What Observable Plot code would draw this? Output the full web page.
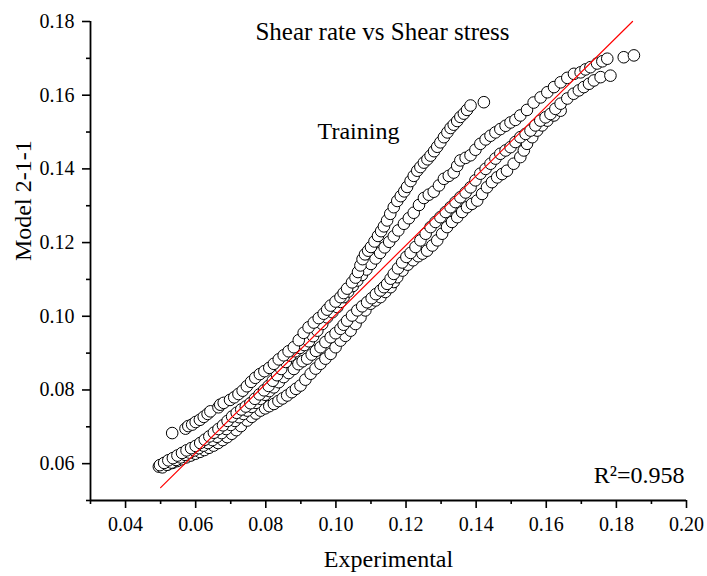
<!DOCTYPE html>
<html>
<head>
<meta charset="utf-8">
<script src="https://cdn.jsdelivr.net/npm/d3@7"></script>
<script src="https://cdn.jsdelivr.net/npm/@observablehq/plot@0.6"></script>
<style>
  html, body { margin: 0; padding: 0; background: #fff; }
  svg text { font-family: "Liberation Serif", "Times New Roman", serif !important; }
</style>
</head>
<body>
<div id="chart"></div>
<script>
const titleText = "Shear rate vs Shear stress";
const annotationText = "Training";
const r2Text = "R\u00B2=0.958";
const xLabel = "Experimental";
const yLabel = "Model 2-1-1";

const xDomain = [0.03, 0.20];
const yDomain = [0.05, 0.18];
const xMajorTicks = [0.04, 0.06, 0.08, 0.10, 0.12, 0.14, 0.16, 0.18, 0.20];
const xMinorTicks = [0.03, 0.05, 0.07, 0.09, 0.11, 0.13, 0.15, 0.17, 0.19];
const yMajorTicks = [0.06, 0.08, 0.10, 0.12, 0.14, 0.16, 0.18];
const yMinorTicks = [0.05, 0.07, 0.09, 0.11, 0.13, 0.15, 0.17];

// Linear fit line (endpoints)
const fitX = [0.0500, 0.1846];
const fitY = [0.0535, 0.1800];

// Upper branch
const upperBranch = [
[0.0533,0.0683],
[0.0571,0.0695],[0.0579,0.0702],[0.0590,0.0706],[0.0600,0.0713],[0.0612,0.0719],[0.0623,0.0727],[0.0634,0.0735],[0.0642,0.0742],
[0.0665,0.0753],[0.0670,0.0760],[0.0680,0.0765],
[0.0698,0.0773],[0.0710,0.0780],[0.0722,0.0789],[0.0734,0.0798],[0.0746,0.0810],[0.0758,0.0822],[0.0770,0.0833],[0.0783,0.0843],[0.0796,0.0851],[0.0810,0.0860],[0.0823,0.0871],[0.0837,0.0883],[0.0851,0.0894],[0.0865,0.0905],[0.0880,0.0916],[0.0894,0.0935],[0.0908,0.0955],[0.0922,0.0970],[0.0937,0.0983],[0.0951,0.0995],[0.0965,0.1007],[0.0975,0.1018],[0.0985,0.1029],[0.0999,0.1040],[0.1013,0.1052],[0.1022,0.1063],[0.1032,0.1075],[0.1046,0.1092],[0.1056,0.1105],[0.1063,0.1120],[0.1070,0.1138],[0.1076,0.1155],[0.1083,0.1168],[0.1092,0.1178],[0.1100,0.1188],[0.1110,0.1203],[0.1120,0.1218],[0.1129,0.1231],[0.1137,0.1244],[0.1146,0.1260],[0.1155,0.1278],[0.1165,0.1296],[0.1175,0.1313],[0.1185,0.1326],[0.1195,0.1339],[0.1203,0.1351],[0.1213,0.1367],[0.1222,0.1381],[0.1232,0.1395],[0.1241,0.1405],[0.1251,0.1417],[0.1261,0.1426],[0.1270,0.1436],[0.1280,0.1448],[0.1289,0.1460],[0.1298,0.1472],[0.1308,0.1486],[0.1318,0.1499],[0.1327,0.1511],[0.1336,0.1520],[0.1346,0.1530],[0.1355,0.1541],[0.1365,0.1550],[0.1374,0.1560],[0.1384,0.1572],[0.1422,0.1581]
];

// Middle branch
const middleBranch = [
[0.0498,0.0596],[0.0510,0.0602],[0.0522,0.0609],[0.0535,0.0615],[0.0548,0.0622],[0.0561,0.0629],[0.0574,0.0636],[0.0587,0.0642],[0.0600,0.0648],[0.0613,0.0656],[0.0626,0.0665],[0.0639,0.0674],[0.0652,0.0684],[0.0665,0.0694],[0.0678,0.0704],[0.0691,0.0716],[0.0704,0.0728],[0.0717,0.0738],[0.0730,0.0747],[0.0743,0.0755],[0.0756,0.0764],[0.0769,0.0776],[0.0782,0.0788],[0.0795,0.0799],[0.0808,0.0811],[0.0820,0.0825],[0.0832,0.0840],[0.0844,0.0857],[0.0857,0.0876],[0.0870,0.0893],[0.0884,0.0905],[0.0897,0.0914],[0.0910,0.0922],[0.0923,0.0932],[0.0935,0.0946],[0.0947,0.0961],[0.0961,0.0979],[0.0975,0.0997],[0.0990,0.1011],[0.1004,0.1025],[0.1013,0.1039],[0.1022,0.1052],[0.1035,0.1067],[0.1048,0.1082],[0.1061,0.1097],[0.1074,0.1112],[0.1087,0.1127],[0.1100,0.1142],[0.1113,0.1157],[0.1126,0.1172],[0.1139,0.1187],[0.1152,0.1202],[0.1165,0.1217],[0.1178,0.1233],[0.1194,0.1251],[0.1208,0.1266],[0.1222,0.1281],[0.1237,0.1302],[0.1251,0.1321],[0.1265,0.1330],[0.1279,0.1338],[0.1294,0.1355],[0.1308,0.1373],[0.1322,0.1381],[0.1336,0.1390],[0.1346,0.1408],[0.1355,0.1423],[0.1370,0.1430],[0.1384,0.1437],[0.1398,0.1452],[0.1412,0.1468],[0.1427,0.1480],[0.1441,0.1490],[0.1455,0.1499],[0.1469,0.1508],[0.1484,0.1517],[0.1498,0.1526],[0.1512,0.1533],[0.1526,0.1545],[0.1545,0.1560],[0.1564,0.1580],[0.1584,0.1594],[0.1603,0.1608],[0.1622,0.1622],[0.1641,0.1635],[0.1660,0.1647],[0.1679,0.1658],[0.1698,0.1662],[0.1712,0.1670],[0.1726,0.1676],[0.1745,0.1686],[0.1760,0.1692],[0.1774,0.1699],[0.1821,0.1703],[0.1850,0.1708]
];

// Lower branch, inner track
const lowerBranchA = [
[0.0505,0.0590],[0.0518,0.0597],[0.0531,0.0603],[0.0544,0.0610],[0.0557,0.0617],[0.0570,0.0624],[0.0583,0.0630],[0.0596,0.0636],[0.0609,0.0642],[0.0622,0.0649],[0.0635,0.0656],[0.0648,0.0664],[0.0661,0.0673],[0.0674,0.0683],[0.0687,0.0694],[0.0700,0.0705],[0.0712,0.0716],[0.0724,0.0726],[0.0736,0.0735],[0.0747,0.0744],[0.0760,0.0754],[0.0772,0.0765],[0.0785,0.0776],[0.0798,0.0787],[0.0810,0.0797],[0.0823,0.0807],[0.0837,0.0821],[0.0851,0.0835],[0.0865,0.0846],[0.0880,0.0857],[0.0893,0.0870],[0.0905,0.0878],[0.0918,0.0885],[0.0931,0.0896],[0.0943,0.0906],[0.0956,0.0916],[0.0970,0.0930],[0.0985,0.0943],[0.0999,0.0954],[0.1013,0.0966],[0.1022,0.0977],[0.1032,0.0988],[0.1046,0.1002],[0.1061,0.1016],[0.1075,0.1027],[0.1089,0.1038],[0.1102,0.1049],[0.1114,0.1060],[0.1127,0.1070],[0.1137,0.1079],[0.1146,0.1088],[0.1156,0.1102],[0.1165,0.1115],[0.1177,0.1130],[0.1189,0.1146],[0.1201,0.1161],[0.1213,0.1172],[0.1227,0.1188],[0.1241,0.1206],[0.1256,0.1224],[0.1270,0.1242],[0.1284,0.1256],[0.1298,0.1269],[0.1313,0.1283],[0.1327,0.1296],[0.1341,0.1310],[0.1355,0.1323],[0.1370,0.1336],[0.1384,0.1350],[0.1398,0.1369],[0.1412,0.1387],[0.1427,0.1400],[0.1441,0.1414],[0.1455,0.1428],[0.1469,0.1441],[0.1484,0.1450],[0.1498,0.1459],[0.1512,0.1473],[0.1526,0.1486],[0.1541,0.1495],[0.1555,0.1504],[0.1569,0.1518],[0.1583,0.1531],[0.1598,0.1540],[0.1612,0.1549],[0.1626,0.1563],[0.1641,0.1577],[0.1660,0.1591],[0.1678,0.1604],[0.1693,0.1613],[0.1707,0.1622],[0.1722,0.1631],[0.1736,0.1640],[0.1755,0.1649],[0.1783,0.1653]
];

// Lower branch, outer track
const lowerBranchB = [
[0.0495,0.0592],[0.0508,0.0594],[0.0521,0.0598],[0.0534,0.0602],[0.0547,0.0607],[0.0560,0.0612],[0.0573,0.0617],[0.0586,0.0622],[0.0599,0.0627],[0.0612,0.0632],[0.0625,0.0637],[0.0638,0.0643],[0.0651,0.0649],[0.0664,0.0656],[0.0677,0.0664],[0.0690,0.0672],[0.0703,0.0681],[0.0716,0.0691],[0.0729,0.0702],[0.0747,0.0717],[0.0760,0.0727],[0.0772,0.0736],[0.0785,0.0744],[0.0798,0.0750],[0.0810,0.0756],[0.0823,0.0762],[0.0836,0.0770],[0.0848,0.0777],[0.0861,0.0785],[0.0874,0.0794],[0.0886,0.0803],[0.0899,0.0812],[0.0913,0.0828],[0.0928,0.0844],[0.0942,0.0858],[0.0956,0.0871],[0.0970,0.0885],[0.0985,0.0898],[0.0999,0.0916],[0.1013,0.0934],[0.1027,0.0947],[0.1042,0.0961],[0.1056,0.0979],[0.1070,0.0997],[0.1084,0.1016],[0.1099,0.1034],[0.1113,0.1043],[0.1127,0.1052],[0.1141,0.1066],[0.1156,0.1079],[0.1165,0.1093],[0.1175,0.1106],[0.1190,0.1124],[0.1205,0.1140],[0.1220,0.1152],[0.1235,0.1163],[0.1247,0.1170],[0.1260,0.1178],[0.1275,0.1192],[0.1289,0.1206],[0.1303,0.1224],[0.1317,0.1242],[0.1331,0.1256],[0.1346,0.1269],[0.1360,0.1283],[0.1374,0.1296],[0.1388,0.1305],[0.1403,0.1314],[0.1417,0.1332],[0.1431,0.1350],[0.1445,0.1364],[0.1460,0.1377],[0.1474,0.1386],[0.1488,0.1395],[0.1507,0.1414],[0.1526,0.1432],[0.1536,0.1450],[0.1545,0.1468],[0.1560,0.1486],[0.1574,0.1504],[0.1588,0.1518],[0.1603,0.1531],[0.1622,0.1545],[0.1641,0.1558]
];

const toRows = (pairs) => pairs.map(([x, y]) => ({x, y}));
const points = [
  ...toRows(lowerBranchB),
  ...toRows(lowerBranchA),
  ...toRows(middleBranch),
  ...toRows(upperBranch)
];
const fitLine = fitX.map((x, i) => ({x, y: fitY[i]}));

const fmt = d3.format(".2f");
const serif = "Liberation Serif";

const chart = Plot.plot({
  width: 707,
  height: 576,
  marginLeft: 90,
  marginRight: 21,
  marginTop: 21,
  marginBottom: 76,
  x: {domain: xDomain, label: null},
  y: {domain: yDomain, label: null},
  style: {fontFamily: serif, fontSize: "20px", background: "#fff", color: "#000", overflow: "visible"},
  marks: [
    Plot.dot(points, {x: "x", y: "y", r: 5.8, stroke: "#000", strokeWidth: 1, fill: "#fff"}),
    Plot.line(fitLine, {x: "x", y: "y", stroke: "#ff0000", strokeWidth: 1.2}),
    Plot.ruleX([xDomain[0]], {stroke: "#000", strokeWidth: 1.8}),
    Plot.ruleY([yDomain[0]], {stroke: "#000", strokeWidth: 1.8}),
    Plot.axisX(xMajorTicks, {anchor: "bottom", tickSize: 8, tickPadding: 8, tickFormat: fmt, label: null, strokeWidth: 1.6, fontFamily: serif, fontSize: 20, fontVariant: "normal"}),
    Plot.axisX(xMinorTicks, {anchor: "bottom", tickSize: 4, tickFormat: () => "", label: null, strokeWidth: 1.6}),
    Plot.axisY(yMajorTicks, {anchor: "left", tickSize: 8, tickPadding: 8, tickFormat: fmt, label: null, strokeWidth: 1.6, fontFamily: serif, fontSize: 20, fontVariant: "normal"}),
    Plot.axisY(yMinorTicks, {anchor: "left", tickSize: 4, tickFormat: () => "", label: null, strokeWidth: 1.6}),
    Plot.text([titleText], {text: d => d, frameAnchor: "top", lineAnchor: "top", dx: -6, dy: 1, fontSize: 25, fontFamily: serif}),
    Plot.text([annotationText], {text: d => d, frameAnchor: "top-left", textAnchor: "middle", lineAnchor: "top", dx: 268, dy: 100, fontSize: 24, fontFamily: serif}),
    Plot.text([r2Text], {text: d => d, frameAnchor: "bottom-right", textAnchor: "end", lineAnchor: "middle", dx: -2, dy: -25, fontSize: 24, fontFamily: serif}),
    Plot.text([xLabel], {text: d => d, frameAnchor: "bottom", lineAnchor: "middle", dy: 59, fontSize: 24, fontFamily: serif}),
    Plot.text([yLabel], {text: d => d, frameAnchor: "left", lineAnchor: "middle", rotate: -90, dx: -67, fontSize: 24, fontFamily: serif})
  ]
});

document.getElementById("chart").appendChild(chart);
</script>
</body>
</html>
